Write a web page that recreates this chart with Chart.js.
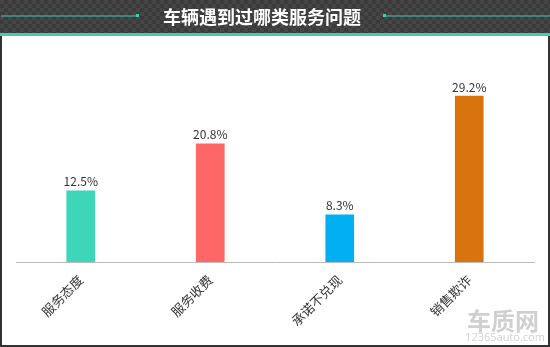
<!DOCTYPE html>
<html>
<head>
<meta charset="utf-8">
<script src="https://cdn.jsdelivr.net/npm/chart.js@4/dist/chart.umd.min.js"></script>
<style>
  html, body { margin: 0; padding: 0; background: #fff; }
  #wrap { width: 550px; height: 347px; position: relative; }
</style>
</head>
<body>
<div id="wrap"><canvas id="myChart" width="550" height="347"></canvas></div>
<script>
// data
const title = '车辆遇到过哪类服务问题';
const categories = ['服务态度', '服务收费', '承诺不兑现', '销售欺诈'];
const shares = [12.5, 20.8, 8.3, 29.2];
const barColors = ['#3dd6b8', '#ff6666', '#00b0f0', '#d9730d'];

const cnFont = "'Microsoft YaHei', 'Noto Sans CJK SC', sans-serif";

// header band, frame and watermark
const frame = {
    id: 'frame',
    beforeDraw(chart) {
        const ctx = chart.ctx;
        ctx.save();
        ctx.fillStyle = '#fff';
        ctx.fillRect(0, 0, 550, 347);
        // checkered header
        ctx.fillStyle = '#3b3b3b';
        ctx.fillRect(0, 0, 550, 33);
        ctx.fillStyle = '#464646';
        for (let y = 0; y < 33; y += 4) {
            for (let x = (y / 4) % 2 * 4; x < 550; x += 8) {
                ctx.fillRect(x, y, 4, 4);
            }
        }
        ctx.fillStyle = '#3dcfb2';
        ctx.fillRect(0, 33, 550, 3);
        // thin lines either side of title
        ctx.fillRect(1, 15.5, 137, 1);
        ctx.fillRect(136, 14, 3, 3);
        ctx.fillRect(383, 15.5, 167, 1);
        ctx.fillRect(383, 14, 3, 3);
        // frame
        ctx.fillStyle = '#333';
        ctx.fillRect(0, 36, 2, 311);
        ctx.fillRect(548, 36, 2, 311);
        ctx.fillRect(0, 345, 550, 2);
        // title
        ctx.fillStyle = '#fff';
        ctx.font = "bold 18px " + cnFont;
        ctx.textAlign = 'center';
        ctx.textBaseline = 'middle';
        ctx.fillText(title, 262, 17);
        // watermark
        ctx.fillStyle = 'rgba(150,150,150,0.45)';
        ctx.font = "bold 24px " + cnFont;
        ctx.fillText('车质网', 503, 321);
        ctx.font = "11px 'Open Sans', sans-serif";
        ctx.fillText('12365auto.com', 505, 338);
        ctx.restore();
    }
};

const valueLabels = {
    id: 'valueLabels',
    afterDatasetsDraw(chart) {
        const ctx = chart.ctx;
        const meta = chart.getDatasetMeta(0);
        ctx.save();
        ctx.fillStyle = '#333';
        ctx.font = "12px " + cnFont;
        ctx.textAlign = 'center';
        ctx.textBaseline = 'bottom';
        meta.data.forEach((bar, i) => {
            ctx.fillText(shares[i].toFixed(1) + '%', bar.x, bar.y - 3);
        });
        ctx.restore();
    }
};

new Chart(document.getElementById('myChart'), {
    type: 'bar',
    data: {
        labels: categories,
        datasets: [{
            data: shares,
            backgroundColor: barColors,
            barThickness: 28
        }]
    },
    options: {
        responsive: false,
        animation: false,
        layout: { padding: { top: 63, left: 16, right: 16, bottom: 0 } },
        plugins: { legend: { display: false }, tooltip: { enabled: false } },
        scales: {
            x: {
                grid: { display: false },
                border: { display: true, color: '#bbb', width: 1 },
                ticks: {
                    color: '#333',
                    font: { size: 13, family: cnFont },
                    minRotation: 45,
                    maxRotation: 45,
                    padding: 2
                },
                afterFit(scale) { scale.height = 85; }
            },
            y: {
                display: false,
                min: 0,
                max: 35
            }
        }
    },
    plugins: [frame, valueLabels]
});
</script>
</body>
</html>
